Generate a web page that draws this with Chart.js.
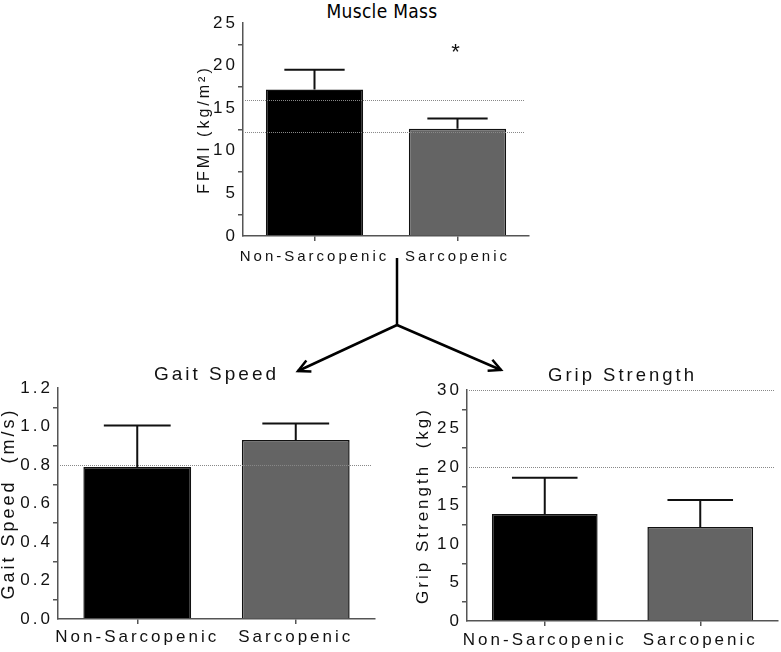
<!DOCTYPE html>
<html>
<head>
<meta charset="utf-8">
<script src="https://cdn.jsdelivr.net/npm/chart.js@4.4.1/dist/chart.umd.min.js"></script>
<style>
    html, body { margin: 0; padding: 0; background: #fff; }
    #wrap { position: relative; width: 781px; height: 652px; overflow: hidden; }
    #wrap canvas { position: absolute; }
    #arrows { position: absolute; left: 0; top: 0; pointer-events: none; }
    #massTitle {
        position: absolute; left: 282px; top: 0; width: 200px;
        line-height: 20px; text-align: center; color: #000;
        font: 19px 'DejaVu Sans Condensed', 'DejaVu Sans', sans-serif;
        letter-spacing: 0.3px;
    }
</style>
</head>
<body>
<div id="wrap">
    <div id="massTitle">Muscle Mass</div>
    <canvas id="massChart" width="345" height="270" style="left:190px;top:0px"></canvas>
    <canvas id="gaitChart" width="385" height="300" style="left:0px;top:352px"></canvas>
    <canvas id="gripChart" width="381" height="300" style="left:400px;top:352px"></canvas>
    <svg id="arrows" width="781" height="652">
        <defs>
            <marker id="head" markerUnits="userSpaceOnUse" markerWidth="18" markerHeight="18" refX="15" refY="9" orient="auto">
                <path d="M3,3 L15,9 L3,15" fill="none" stroke="#000" stroke-width="2.5"/>
            </marker>
        </defs>
        <path d="M397,258 L397,325" stroke="#000" stroke-width="2.5" fill="none"/>
        <path d="M397,325 L298,371" stroke="#000" stroke-width="2.5" fill="none" marker-end="url(#head)"/>
        <path d="M397,325 L501,370" stroke="#000" stroke-width="2.5" fill="none" marker-end="url(#head)"/>
    </svg>
</div>
<script>
// Dados
const groups = ['Non-Sarcopenic', 'Sarcopenic'];

const ffmiMean = [17.2, 12.6];
const ffmiSd = [2.3, 1.2];
const ffmiCutoffs = [16, 12.2];
const ffmiSig = ['', '*'];

const gaitMean = [0.79, 0.93];
const gaitSd = [0.215, 0.085];
const gaitCutoffs = [0.8];

const gripMean = [13.9, 12.2];
const gripSd = [4.7, 3.5];
const gripCutoffs = [20, 30];

const SIG_LEVEL = 22;
const INK = '#111';
const AXIS = '#555';

Chart.defaults.font.family = "'Liberation Sans', Arial, sans-serif";
Chart.defaults.color = INK;

// espaçamento entre letras (o original é bem espaçado)
const letterSpacing = {
    id: 'letterSpacing',
    beforeUpdate(chart, args, opts) { chart.ctx.letterSpacing = (opts.px || 0) + 'px'; },
    beforeDraw(chart, args, opts) { chart.ctx.letterSpacing = (opts.px || 0) + 'px'; }
};

// linhas pontilhadas de corte
const cutoffLines = {
    id: 'cutoffLines',
    afterDatasetsDraw(chart) {
        const ds = chart.data.datasets[0];
        if (!ds.cutoffs) return;
        const { ctx, chartArea, scales: { y } } = chart;
        ctx.save();
        ctx.strokeStyle = '#888';
        ctx.lineWidth = 1;
        ctx.setLineDash([1, 1]);
        ds.cutoffs.forEach(v => {
            const py = Math.round(y.getPixelForValue(v)) + 0.5;
            ctx.beginPath();
            ctx.moveTo(chartArea.left + 2, py);
            ctx.lineTo(chartArea.right - 4, py);
            ctx.stroke();
        });
        ctx.restore();
    }
};

// barras de erro (só para cima)
const errorBars = {
    id: 'errorBars',
    afterDatasetsDraw(chart) {
        const ds = chart.data.datasets[0];
        const { ctx, scales: { y } } = chart;
        const meta = chart.getDatasetMeta(0);
        ctx.save();
        ctx.strokeStyle = INK;
        ctx.lineWidth = 2;
        meta.data.forEach((bar, i) => {
            const base = y.getPixelForValue(ds.data[i]);
            const top = y.getPixelForValue(ds.data[i] + ds.sd[i]);
            const half = bar.width * 0.31;
            ctx.beginPath();
            ctx.moveTo(bar.x, base);
            ctx.lineTo(bar.x, top);
            ctx.moveTo(bar.x - half, top);
            ctx.lineTo(bar.x + half, top);
            ctx.stroke();
        });
        // asterisco de significância
        if (ds.sig) {
            ctx.letterSpacing = '0px';
            ctx.fillStyle = INK;
            ctx.font = "22px 'Liberation Sans', Arial, sans-serif";
            ctx.textAlign = 'center';
            ctx.textBaseline = 'middle';
            meta.data.forEach((bar, i) => {
                if (ds.sig[i]) ctx.fillText(ds.sig[i], bar.x - 2, y.getPixelForValue(SIG_LEVEL) + 4);
            });
        }
        ctx.restore();
    }
};

function barChart(id, cfg) {
    const axisGrid = (offset) => ({
        display: true,
        drawOnChartArea: false,
        drawTicks: true,
        tickLength: 5,
        offset: offset,
        color: AXIS,
        lineWidth: 1.5
    });
    return new Chart(document.getElementById(id), {
        type: 'bar',
        data: {
            labels: groups,
            datasets: [{
                data: cfg.mean,
                sd: cfg.sd,
                cutoffs: cfg.cutoffs,
                sig: cfg.sig,
                backgroundColor: ['#000000', '#646464'],
                borderColor: INK,
                borderWidth: 1.5,
                barPercentage: 0.68,
                categoryPercentage: 1
            }]
        },
        options: {
            responsive: false,
            animation: false,
            layout: { padding: { left: 0, right: cfg.padRight, top: cfg.padTop || 0, bottom: 0 } },
            plugins: {
                legend: { display: false },
                tooltip: { enabled: false },
                letterSpacing: { px: cfg.spacing },
                title: {
                    display: !!cfg.title,
                    text: cfg.title,
                    fullSize: false,
                    color: INK,
                    font: { size: cfg.titleSize, weight: 'normal', lineHeight: 1.2 },
                    padding: cfg.titlePad
                }
            },
            scales: {
                x: {
                    grid: axisGrid(false),
                    border: { display: true, color: AXIS, width: 1.5 },
                    ticks: {
                        color: INK, padding: cfg.xPad, font: { size: cfg.xTickSize },
                        maxRotation: 0, minRotation: 0, autoSkip: false
                    },
                    afterFit: (s) => { s.height = cfg.xHeight; s.paddingLeft = 0; s.paddingRight = 0; }
                },
                y: {
                    min: 0,
                    max: cfg.max,
                    grid: axisGrid(true),
                    border: { display: true, color: AXIS, width: 1.5 },
                    ticks: {
                        stepSize: cfg.step,
                        padding: 0,
                        color: INK,
                        font: { size: 17 },
                        callback: cfg.fmt
                    },
                    title: {
                        display: true,
                        text: cfg.yTitle,
                        color: INK,
                        font: { size: cfg.yTitleSize, lineHeight: 1 },
                        padding: { top: cfg.yTitlePad, bottom: 0 }
                    },
                    afterFit: (s) => { s.width = cfg.yWidth; }
                }
            }
        },
        plugins: [letterSpacing, cutoffLines, errorBars]
    });
}

// título "Muscle Mass" fica no HTML (fonte condensada)
barChart('massChart', {
    mean: ffmiMean, sd: ffmiSd, cutoffs: ffmiCutoffs, sig: ffmiSig,
    title: '', padTop: 23,
    spacing: 3, xTickSize: 15, xPad: 7, xHeight: 34, padRight: 6,
    max: 25, step: 5, fmt: (v) => v,
    yTitle: 'FFMI (kg/m²)', yTitleSize: 16, yTitlePad: 7, yWidth: 53
});

barChart('gaitChart', {
    mean: gaitMean, sd: gaitSd, cutoffs: gaitCutoffs,
    title: 'Gait Speed', titleSize: 19,
    titlePad: { top: 11, bottom: 2.2 },
    spacing: 3, xTickSize: 17, xPad: 3, xHeight: 33, padRight: 10,
    max: 1.2, step: 0.2, fmt: (v) => Number(v).toFixed(1),
    yTitle: 'Gait Speed  (m/s)', yTitleSize: 18, yTitlePad: 0, yWidth: 58
});

barChart('gripChart', {
    mean: gripMean, sd: gripSd, cutoffs: gripCutoffs,
    title: 'Grip Strength', titleSize: 18.5,
    titlePad: { top: 13, bottom: 2.8 },
    spacing: 3, xTickSize: 17, xPad: 4, xHeight: 31, padRight: 3,
    max: 30, step: 5, fmt: (v) => v,
    yTitle: 'Grip Strength  (kg)', yTitleSize: 17, yTitlePad: 14.5, yWidth: 67
});
</script>
</body>
</html>
